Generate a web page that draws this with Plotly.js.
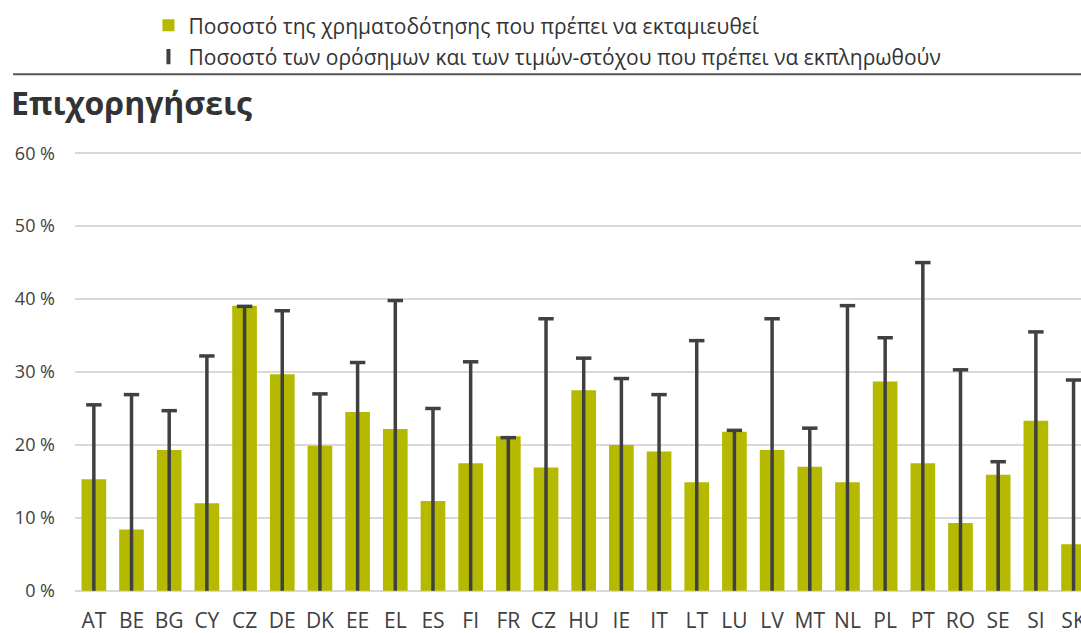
<!DOCTYPE html>
<html>
<head>
<meta charset="utf-8">
<script src="https://cdn.plot.ly/plotly-3.0.1.min.js"></script>
<style>
html, body { margin: 0; padding: 0; overflow: hidden; background: #ffffff; }
#chart { width: 1081px; height: 633px; }
</style>
</head>
<body>
<div id="chart"></div>
<script>
// Categories (member states)
const countries = ["AT","BE","BG","CY","CZ","DE","DK","EE","EL","ES","FI","FR","CZ ","HU","IE","IT","LT","LU","LV","MT","NL","PL","PT","RO","SE","SI","SK"];
// Share of funding to be disbursed (%)
const fundingShare = [15.3, 8.4, 19.3, 12.0, 39.1, 29.7, 19.9, 24.5, 22.2, 12.3, 17.5, 21.2, 16.9, 27.5, 20.0, 19.1, 14.9, 21.8, 19.3, 17.0, 14.9, 28.7, 17.5, 9.3, 15.9, 23.3, 6.4];
// Share of milestones and targets to be fulfilled (%)
const milestoneShare = [25.5, 26.9, 24.7, 32.2, 39.0, 38.4, 27.0, 31.3, 39.8, 25.0, 31.4, 21.0, 37.3, 31.9, 29.1, 26.9, 34.3, 22.0, 37.3, 22.3, 39.1, 34.7, 45.0, 30.3, 17.7, 35.5, 28.9];
// Legend labels and title
const legendFunding = "Ποσοστό της χρηματοδότησης που πρέπει να εκταμιευθεί";
const legendMilestones = "Ποσοστό των ορόσημων και των τιμών-στόχου που πρέπει να εκπληρωθούν";
const chartTitle = "Επιχορηγήσεις";
const yTicks = [0, 10, 20, 30, 40, 50, 60];

const green = "#B5BA00";
const dark = "#404040";
const font = "'Open Sans', 'Noto Sans', sans-serif";

const traces = [
  {
    type: "bar",
    x: countries,
    y: fundingShare,
    name: legendFunding,
    legendgroup: "a",
    marker: { color: green, line: { width: 0 } },
    hoverinfo: "x+y"
  },
  {
    type: "scatter",
    mode: "markers",
    x: countries,
    y: milestoneShare,
    name: legendMilestones,
    showlegend: false,
    legendgroup: "b",
    marker: { symbol: "line-ew-open", size: 11, color: dark, line: { color: dark, width: 3.5 } },
    error_y: {
      type: "data",
      symmetric: false,
      array: milestoneShare.map(() => 0),
      arrayminus: milestoneShare,
      width: 0,
      thickness: 3.5,
      color: dark
    },
    cliponaxis: false
  },
  {
    type: "scatter",
    mode: "markers",
    x: [null],
    y: [null],
    name: legendMilestones,
    legendgroup: "b",
    marker: { symbol: "line-ns-open", size: 11, color: dark, line: { color: dark, width: 4 } },
    hoverinfo: "skip"
  }
];

const W = 1081, H = 633;
const eps = 0.3;                  // small padding so the 0 % and 60 % gridlines are drawn
const pxPerUnit = (590.7 - 153) / 60;
const mL = 74.5, mR = 0;
const mT = 153 - eps * pxPerUnit;
const mB = H - (590.7 + eps * pxPerUnit);
const plotW = W - mL - mR, plotH = H - mT - mB;
const px2x = p => (p - mL) / plotW;
const px2y = p => 1 - (p - mT) / plotH;

const layout = {
  width: W,
  height: H,
  margin: { l: mL, r: mR, t: mT, b: mB, pad: 0 },
  paper_bgcolor: "#ffffff",
  plot_bgcolor: "#ffffff",
  font: { family: font, color: dark, size: 18 },
  title: {
    text: "<b>" + chartTitle + "</b>",
    font: { family: font, size: 32, color: "#333333" },
    xref: "container", x: 11 / W, xanchor: "left",
    yref: "container", y: 1 - 104 / H, yanchor: "middle"
  },
  bargap: 0.345,
  showlegend: true,
  legend: {
    orientation: "v",
    traceorder: "grouped",
    tracegroupgap: 1,
    x: px2x(148), xanchor: "left",
    y: px2y(5), yanchor: "top",
    font: { family: font, size: 21, color: "#333333" },
    bgcolor: "rgba(0,0,0,0)",
    itemclick: false
  },
  xaxis: {
    type: "category",
    range: [-0.5, -0.5 + plotW / 37.7],
    tickfont: { family: font, size: 21, color: dark },
    showgrid: false,
    zeroline: false,
    showline: false,
    ticks: "",
    ticklabelstandoff: 13,
    fixedrange: true
  },
  yaxis: {
    range: [-eps, 60 + eps],
    tickvals: yTicks,
    ticktext: yTicks.map(v => v + " %"),
    tickfont: { family: font, size: 18, color: dark },
    showgrid: true,
    gridcolor: "#D9D9D9",
    gridwidth: 1.6,
    zeroline: false,
    showline: false,
    ticks: "",
    ticklabelstandoff: 19,
    fixedrange: true
  },
  shapes: [
    {
      type: "line", xref: "paper", yref: "paper",
      x0: px2x(12.5), x1: px2x(1081), y0: px2y(74), y1: px2y(74),
      line: { color: "#555555", width: 2 }
    }
  ]
};

Plotly.newPlot("chart", traces, layout, { displayModeBar: false, staticPlot: true });
</script>
</body>
</html>
